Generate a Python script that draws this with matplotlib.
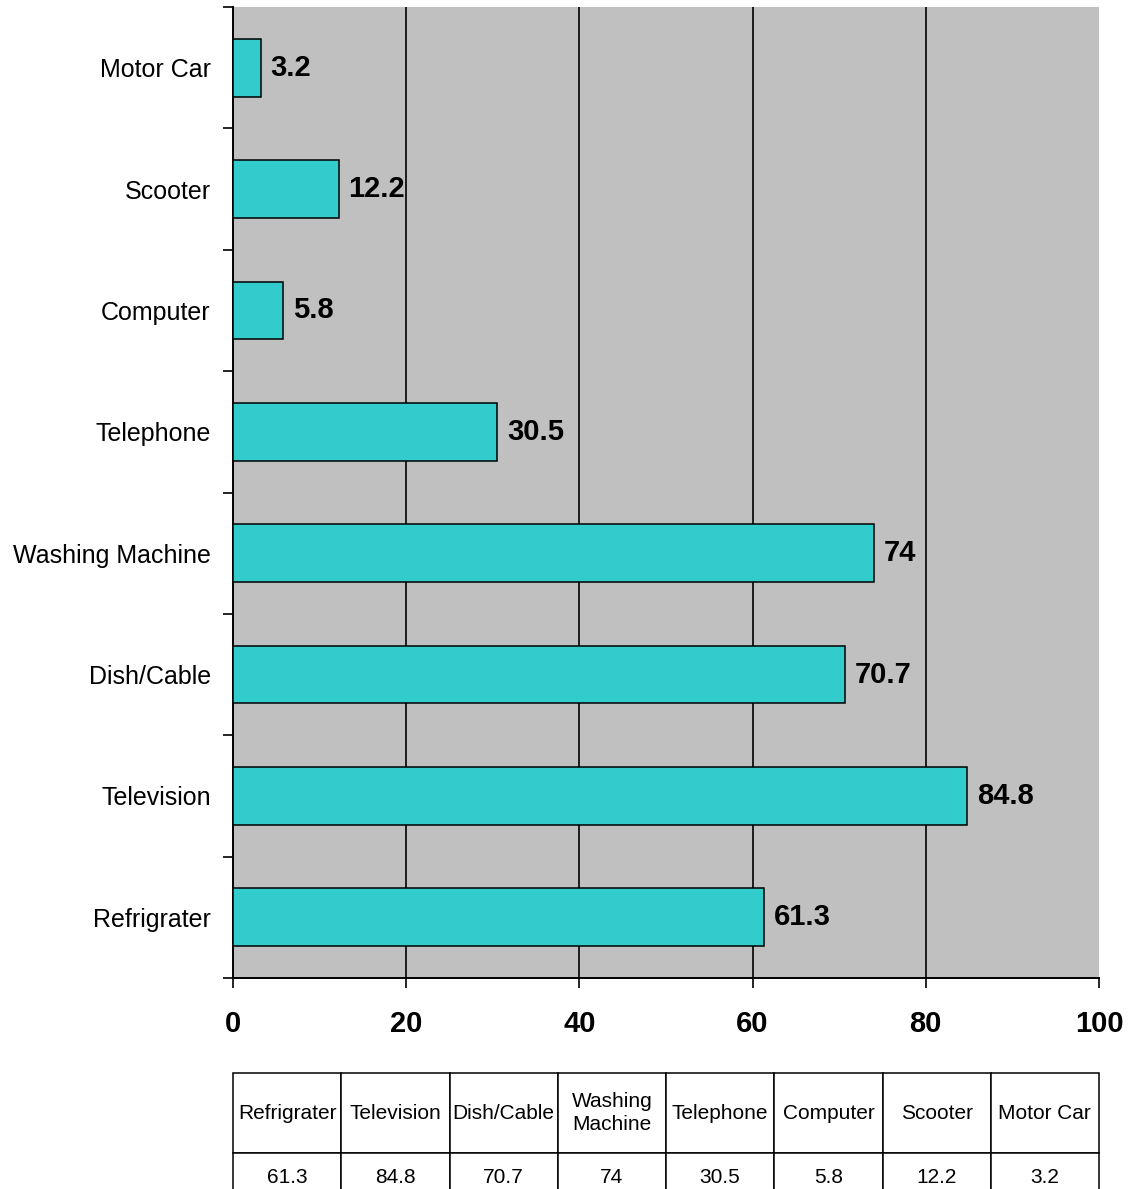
import matplotlib
matplotlib.use("Agg")
import matplotlib.pyplot as plt
import numpy as np

items = ["Refrigrater", "Television", "Dish/Cable", "Washing Machine",
         "Telephone", "Computer", "Scooter", "Motor Car"]
table_heads = ["Refrigrater", "Television", "Dish/Cable", "Washing\nMachine",
               "Telephone", "Computer", "Scooter", "Motor Car"]
percent = [61.3, 84.8, 70.7, 74, 30.5, 5.8, 12.2, 3.2]
x_ticks = [0, 20, 40, 60, 80, 100]

plt.rcParams["font.family"] = ["Liberation Sans", "DejaVu Sans"]

fig = plt.figure(figsize=(11.33, 11.89), dpi=100)
ax = fig.add_axes([233 / 1133, 1 - 978 / 1189, 866 / 1133, 971 / 1189])
ax.set_facecolor("#c0c0c0")

pos = np.arange(len(items))
bars = ax.barh(pos, percent, height=0.476, color="#33cccc",
               edgecolor="black", linewidth=1.1, zorder=3)
ax.bar_label(bars, labels=[f"{v:g}" for v in percent], padding=7,
             fontsize=21, fontweight="bold")

ax.set_xlim(0, 100)
ax.set_ylim(-0.5, len(items) - 0.5)
ax.set_xticks(x_ticks)
ax.set_xticklabels([str(t) for t in x_ticks], fontsize=21, fontweight="bold")
ax.tick_params(axis="x", direction="out", length=7, width=1.2, pad=16)
for xv in x_ticks[1:-1]:
    ax.axvline(xv, color="black", linewidth=1.2, zorder=1)

ax.set_yticks(pos)
ax.set_yticklabels(items, fontsize=18)
ax.set_yticks(np.arange(-0.5, len(items)), minor=True)
ax.tick_params(axis="y", which="major", length=0, pad=16)
ax.tick_params(axis="y", which="minor", direction="out", length=7, width=1.2)

ax.spines["top"].set_visible(False)
ax.spines["right"].set_visible(False)
ax.spines["left"].set_linewidth(1.4)
ax.spines["bottom"].set_linewidth(1.4)

# data table under the chart: tall header row, shorter value row
tbl = ax.table(cellText=[table_heads, [f"{v:g}" for v in percent]],
               cellLoc="center", bbox=[0, -0.2297, 1, 0.1318])
tbl.auto_set_font_size(False)
tbl.set_fontsize(15)
for (r, c), cell in tbl.get_celld().items():
    cell.set_linewidth(1.1)
    cell.set_edgecolor("black")
    cell.set_height(80 if r == 0 else 48)
    cell.PAD = 0.02
    cell.get_text().set_linespacing(1.3)

fig.savefig("out.png", dpi=100)
